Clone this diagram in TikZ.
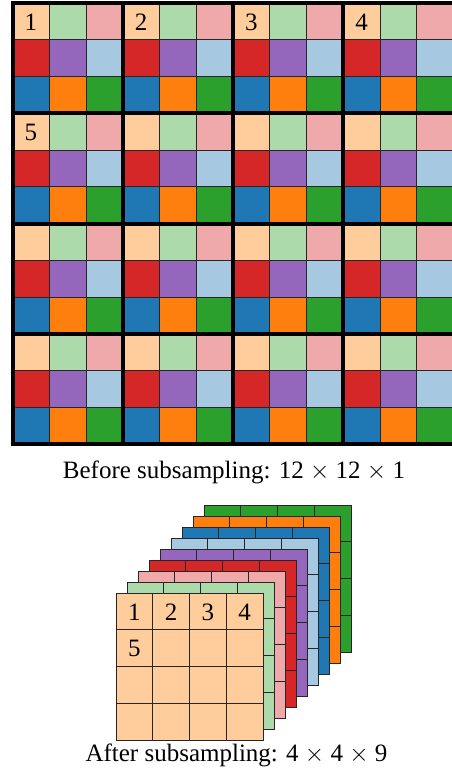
\documentclass[tikz,border=0pt]{standalone}
\usepackage{fontspec}
\setmainfont{Liberation Serif}
\definecolor{cPeach}{RGB}{255,204,155}
\definecolor{cLgreen}{RGB}{173,218,170}
\definecolor{cPink}{RGB}{239,169,170}
\definecolor{cRed}{RGB}{214,39,40}
\definecolor{cPurple}{RGB}{148,103,189}
\definecolor{cLblue}{RGB}{166,200,225}
\definecolor{cBlue}{RGB}{31,119,180}
\definecolor{cOrange}{RGB}{255,127,14}
\definecolor{cGreen}{RGB}{44,160,44}
\tikzset{cell/.style={draw=black!85, line width=0.8pt},
  num/.style={font=\fontsize{25}{29}\selectfont, inner sep=0pt},
  caption/.style={font=\fontsize{25}{29}\selectfont, anchor=base}}
\begin{document}
\begin{tikzpicture}[x=1pt,y=-1pt]
\useasboundingbox (0,0) rectangle (452,780);
% input image, 4x4 blocks of 3x3
\foreach \r/\c/\col in {0/0/cPeach,0/1/cLgreen,0/2/cPink,1/0/cRed,1/1/cPurple,1/2/cLblue,2/0/cBlue,2/1/cOrange,2/2/cGreen}
  \foreach \bi in {0,...,3}
    \foreach \bj in {0,...,3}
      \filldraw[cell, fill=\col] ({12.5+(3*\bj+\c)*36.75},{3+(3*\bi+\r)*36.75}) rectangle ++(36.75,36.75);
\foreach \k in {0,...,4} {
  \draw[line width=4pt] ({12.5+\k*110.25},1) -- ({12.5+\k*110.25},{3+441+2});
  \draw[line width=4pt] (10.5,{3+\k*110.25}) -- (456,{3+\k*110.25});
}
\node[num] (in1) at (30.9,22) {1};
\node[num] (in2) at (141.1,22) {2};
\node[num] (in3) at (251.4,22) {3};
\node[num] (in4) at (361.6,22) {4};
\node[num] (in5) at (30.9,132.2) {5};
\node[caption] (before) at (234,478) {Before subsampling: 12 $\times$ 12 $\times$ 1};

% output, one 4x4 map per colour
\foreach \k/\col in {8/cGreen,7/cOrange,6/cBlue,5/cLblue,4/cPurple,3/cRed,2/cPink,1/cLgreen,0/cPeach}
  \foreach \i in {0,...,3}
    \foreach \j in {0,...,3}
      \filldraw[cell, fill=\col] ({116+11*\k+\j*36.75},{593-11*\k+\i*36.75}) rectangle ++(36.75,36.75);
\node[num] (out1) at (134.4,612) {1};
\node[num] (out2) at (171.1,612) {2};
\node[num] (out3) at (207.9,612) {3};
\node[num] (out4) at (244.6,612) {4};
\node[num] (out5) at (134.4,648.7) {5};
\node[caption] (after) at (236.5,761) {After subsampling: 4 $\times$ 4 $\times$ 9};
\end{tikzpicture}
\end{document}
